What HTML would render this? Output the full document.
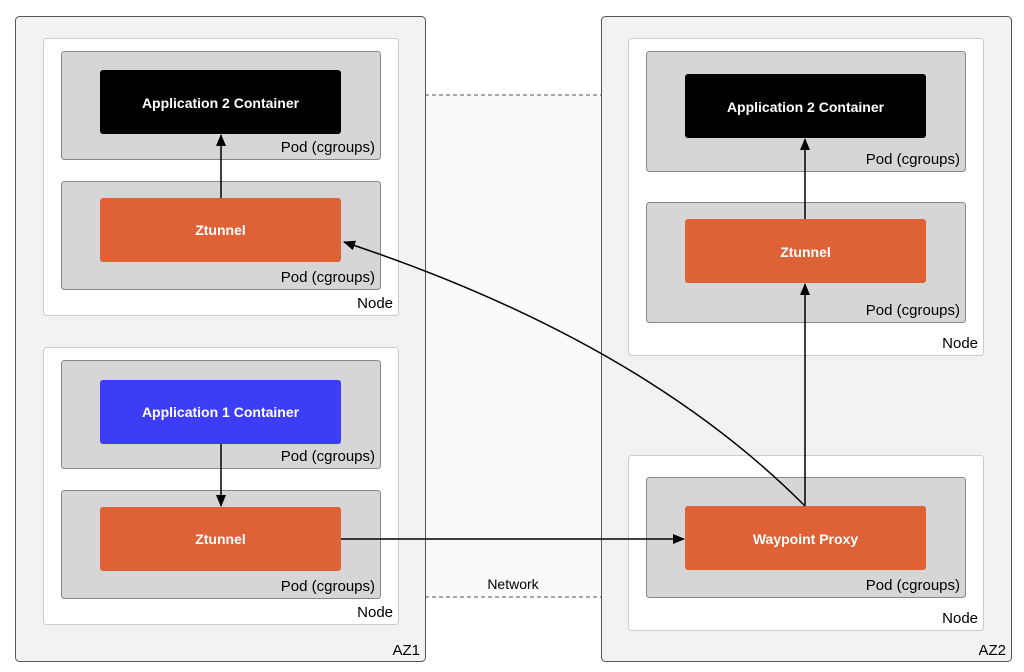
<!DOCTYPE html>
<html><head><meta charset="utf-8"><style>
html,body{margin:0;padding:0;background:#fff;}
svg{display:block;font-family:"Liberation Sans",Arial,sans-serif;}
</style></head><body>
<svg width="1024" height="672" viewBox="0 0 1024 672" xmlns="http://www.w3.org/2000/svg">
<defs><marker id="a" markerWidth="12" markerHeight="10" refX="11" refY="5" orient="auto" markerUnits="userSpaceOnUse"><path d="M0,0 L12,5 L0,10 Z" fill="#000"/></marker></defs>
<rect x="425" y="95" width="176" height="502" fill="#fafafa"/>
<line x1="425" y1="95" x2="601" y2="95" stroke="#555" stroke-dasharray="4,3"/>
<line x1="425" y1="597" x2="601" y2="597" stroke="#555" stroke-dasharray="4,3"/>
<text x="513" y="589" font-size="14" text-anchor="middle">Network</text>
<g stroke="#555" stroke-width="1">
<rect x="15.5" y="16.5" width="410" height="645" rx="4" fill="#f2f2f2"/>
<rect x="601.5" y="16.5" width="410" height="645" rx="4" fill="#f2f2f2"/>
</g>
<g stroke="#ccc" fill="#fff">
<rect x="43.5" y="38.5" width="355" height="277" rx="3"/>
<rect x="43.5" y="347.5" width="355" height="277" rx="3"/>
<rect x="628.5" y="38.5" width="355" height="317" rx="3"/>
<rect x="628.5" y="455.5" width="355" height="175" rx="3"/>
</g>
<g stroke="#888" fill="#d6d6d6">
<rect x="61.5" y="51.5" width="319" height="108" rx="3"/>
<rect x="61.5" y="181.5" width="319" height="108" rx="3"/>
<rect x="61.5" y="360.5" width="319" height="108" rx="3"/>
<rect x="61.5" y="490.5" width="319" height="108" rx="3"/>
<rect x="646.5" y="51.5" width="319" height="120" rx="3"/>
<rect x="646.5" y="202.5" width="319" height="120" rx="3"/>
<rect x="646.5" y="477.5" width="319" height="120" rx="3"/>
</g>
<rect x="100" y="70" width="241" height="64" rx="3" fill="#000"/>
<rect x="100" y="198" width="241" height="64" rx="3" fill="#df6136"/>
<rect x="100" y="380" width="241" height="64" rx="3" fill="#3d3df5"/>
<rect x="100" y="507" width="241" height="64" rx="3" fill="#df6136"/>
<rect x="685" y="74" width="241" height="64" rx="3" fill="#000"/>
<rect x="685" y="219" width="241" height="64" rx="3" fill="#df6136"/>
<rect x="685" y="506" width="241" height="64" rx="3" fill="#df6136"/>
<g fill="#fff" font-size="14" font-weight="bold" text-anchor="middle">
<text x="220.5" y="108">Application 2 Container</text>
<text x="220.5" y="235">Ztunnel</text>
<text x="220.5" y="417">Application 1 Container</text>
<text x="220.5" y="544">Ztunnel</text>
<text x="805.5" y="112">Application 2 Container</text>
<text x="805.5" y="257">Ztunnel</text>
<text x="805.5" y="544">Waypoint Proxy</text>
</g>
<g font-size="15" text-anchor="end" fill="#000">
<text x="375" y="152">Pod (cgroups)</text>
<text x="375" y="282">Pod (cgroups)</text>
<text x="375" y="461">Pod (cgroups)</text>
<text x="375" y="591">Pod (cgroups)</text>
<text x="960" y="164">Pod (cgroups)</text>
<text x="960" y="315">Pod (cgroups)</text>
<text x="960" y="590">Pod (cgroups)</text>
<text x="393" y="308">Node</text>
<text x="393" y="617">Node</text>
<text x="978" y="348">Node</text>
<text x="978" y="623">Node</text>
<text x="420" y="655">AZ1</text>
<text x="1006" y="655">AZ2</text>
</g>
<g stroke="#000" stroke-width="1.5" fill="none">
<line x1="221" y1="198" x2="221" y2="135" marker-end="url(#a)"/>
<line x1="221" y1="444" x2="221" y2="506" marker-end="url(#a)"/>
<line x1="341" y1="539" x2="684" y2="539" marker-end="url(#a)"/>
<line x1="805" y1="506" x2="805" y2="284" marker-end="url(#a)"/>
<line x1="805" y1="219" x2="805" y2="139" marker-end="url(#a)"/>
<path d="M805,506 Q640,340 344,242" marker-end="url(#a)"/>
</g>
</svg>
</body></html>
